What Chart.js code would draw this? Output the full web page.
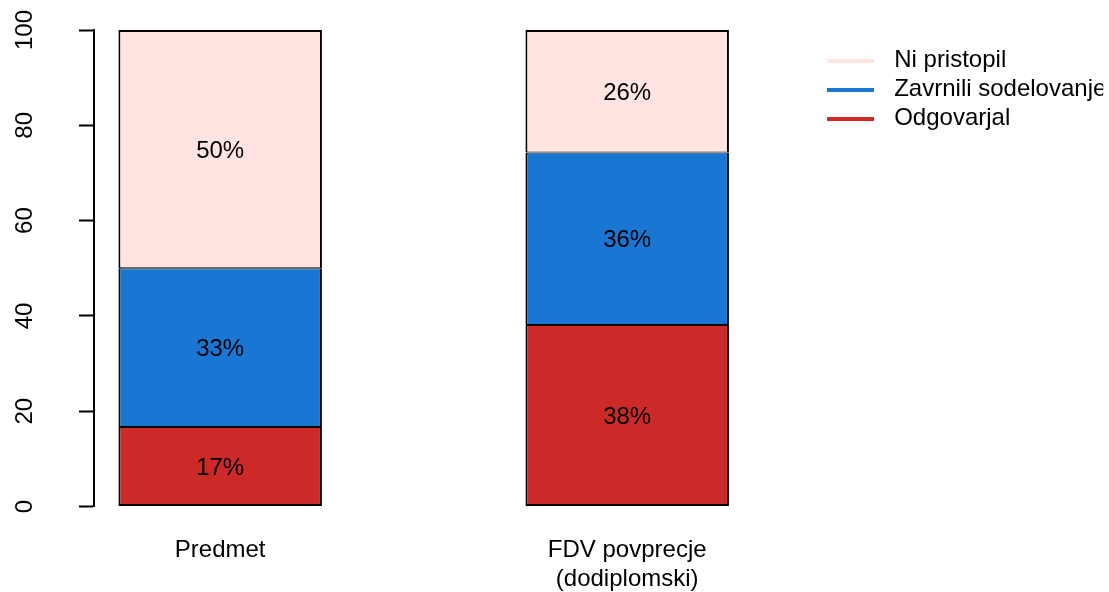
<!DOCTYPE html>
<html><head><meta charset="utf-8">
<script src="https://cdn.jsdelivr.net/npm/chart.js@4.4.0/dist/chart.umd.min.js"></script>
<style>html,body{margin:0;padding:0;background:#fff}#wrap{width:1109px;height:592px}</style>
</head><body><div id="wrap"><canvas id="c" width="1109" height="592"></canvas></div>
<script>
// ---- data ----
const categories = ['Predmet', ['FDV povprecje', '(dodiplomski)']];
const seriesNames = ['Odgovarjal', 'Zavrnili sodelovanje', 'Ni pristopil'];
const odgovarjal = [16.67, 38.1];
const zavrnili = [33.33, 36.2];
const niPristopil = [50.0, 25.7];
const yTicks = [0, 20, 40, 60, 80, 100];
const seriesColors = ['#CC2929', '#1976D2', '#FFE4E1'];

const FONT = '"Liberation Sans", Arial, sans-serif';
const FS = 24;

// bar centres follow R barplot layout (width 1, space 1)
const centres = categories.map((_, i) => 1.5 + 2 * i);
const seriesValues = [odgovarjal, zavrnili, niPristopil];

function lineSwatch(color) {
  const c = document.createElement('canvas');
  c.width = 47; c.height = 4;
  const g = c.getContext('2d');
  g.fillStyle = color; g.fillRect(0, 0, 47, 4);
  return c;
}
const swatches = seriesColors.map(lineSwatch);

const last = seriesNames.length - 1;
const datasets = seriesNames.map((name, s) => ({
  label: name,
  data: seriesValues[s].map((v, i) => ({ x: centres[i], y: v })),
  backgroundColor: seriesColors[s],
  borderColor: '#000',
  borderWidth: { left: 2, right: 2, top: s === last ? 2 : 1, bottom: s === 0 ? 2 : 1 },
  borderSkipped: false,
  categoryPercentage: 1,
  barPercentage: 0.5
}));

const barLabels = {
  id: 'barLabels',
  afterDatasetsDraw(chart) {
    const ctx = chart.ctx;
    ctx.save();
    ctx.font = FS + 'px ' + FONT;
    ctx.fillStyle = '#000';
    ctx.textAlign = 'center';
    ctx.textBaseline = 'alphabetic';
    chart.data.datasets.forEach((ds, i) => {
      chart.getDatasetMeta(i).data.forEach((el, j) => {
        const p = el.getCenterPoint();
        ctx.fillText(Math.round(ds.data[j].y) + '%', p.x, p.y + 0.358 * FS);
      });
    });
    ctx.restore();
  }
};

new Chart(document.getElementById('c'), {
  type: 'bar',
  data: { datasets },
  plugins: [barLabels],
  options: {
    responsive: false,
    animation: false,
    devicePixelRatio: 1,
    layout: { padding: { top: 30, right: 5.8, bottom: 0, left: 0 } },
    scales: {
      x: {
        type: 'linear',
        stacked: true,
        offset: false,
        min: 0.88,
        max: 4.414,
        grid: { display: false, drawTicks: false },
        border: { display: false },
        afterBuildTicks: (s) => { s.ticks = centres.map(v => ({ value: v })); },
        afterFit: (s) => { s.height = 85.5; s.paddingLeft = 0; s.paddingRight = 0; },
        ticks: {
          autoSkip: false,
          maxRotation: 0,
          padding: 29.8,
          color: '#000',
          font: { family: FONT, size: FS },
          callback: (v, i) => categories[i]
        }
      },
      y: {
        stacked: true,
        min: 0,
        max: 100,
        afterBuildTicks: (s) => { s.ticks = yTicks.map(v => ({ value: v })); },
        afterFit: (s) => { s.width = 94; s.paddingTop = 0; s.paddingBottom = 0; },
        border: { display: true, color: '#000', width: 2 },
        grid: { drawOnChartArea: false, drawTicks: true, tickLength: 15, tickColor: '#000', tickWidth: 2 },
        ticks: {
          minRotation: 90,
          maxRotation: 90,
          crossAlign: 'center',
          padding: 33.5,
          color: '#000',
          font: { family: FONT, size: FS }
        }
      }
    },
    plugins: {
      tooltip: { enabled: false },
      legend: {
        position: 'right',
        align: 'start',
        reverse: true,
        maxWidth: 290,
        title: { display: true, text: '', font: { size: 1 }, padding: { top: 12.3, bottom: 0 } },
        labels: {
          color: '#000',
          font: { family: FONT, size: FS },
          usePointStyle: true,
          pointStyleWidth: 64,
          padding: 5,
          generateLabels: (chart) => {
            const items = Chart.defaults.plugins.legend.labels.generateLabels(chart);
            items.forEach(it => { it.pointStyle = swatches[it.datasetIndex]; });
            return items;
          }
        }
      }
    }
  }
});
</script>
</body></html>
